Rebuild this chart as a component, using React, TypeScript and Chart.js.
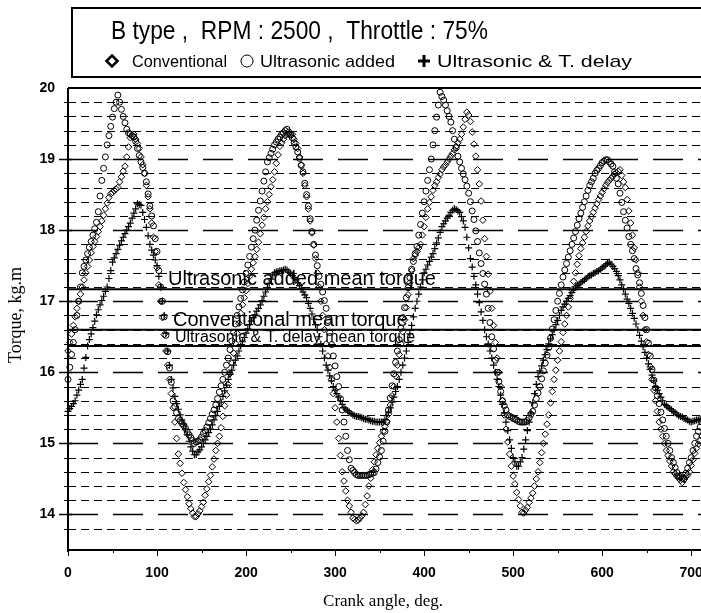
import React, { useEffect, useRef } from 'react';
import { Chart, registerables } from 'chart.js';

Chart.register(...registerables);

// ---------------- data ----------------
const chartTitle = 'B type ,  RPM : 2500 ,  Throttle : 75%';
const seriesNames = ['Conventional', 'Ultrasonic added', 'Ultrasonic & T. delay'];
const xAxisTitle = 'Crank angle, deg.';
const yAxisTitle = 'Torque, kg.m';
const xMin = 0;
const xMax = 720;
const xStep = 100;
const xLastLabel = 700;
const yMin = 13.5;
const yMax = 20;
const yStep = 0.2;

const meanLabels = ['Ultrasonic added mean torque', 'Conventional mean torque', 'Ultrasonic & T. delay mean torque'];
const meanTorques = [17.17, 16.6, 16.37];

// crank angle, deg.
const angles = [
  0, 2, 4, 6, 8, 10, 12, 14, 16, 18,
  20, 22, 24, 26, 28, 30, 32, 34, 36, 38,
  40, 42, 44, 46, 48, 50, 52, 54, 56, 58,
  60, 62, 64, 66, 68, 70, 72, 74, 76, 78,
  80, 82, 84, 86, 88, 90, 92, 94, 96, 98,
  100, 102, 104, 106, 108, 110, 112, 114, 116, 118,
  120, 122, 124, 126, 128, 130, 132, 134, 136, 138,
  140, 142, 144, 146, 148, 150, 152, 154, 156, 158,
  160, 162, 164, 166, 168, 170, 172, 174, 176, 178,
  180, 182, 184, 186, 188, 190, 192, 194, 196, 198,
  200, 202, 204, 206, 208, 210, 212, 214, 216, 218,
  220, 222, 224, 226, 228, 230, 232, 234, 236, 238,
  240, 242, 244, 246, 248, 250, 252, 254, 256, 258,
  260, 262, 264, 266, 268, 270, 272, 274, 276, 278,
  280, 282, 284, 286, 288, 290, 292, 294, 296, 298,
  300, 302, 304, 306, 308, 310, 312, 314, 316, 318,
  320, 322, 324, 326, 328, 330, 332, 334, 336, 338,
  340, 342, 344, 346, 348, 350, 352, 354, 356, 358,
  360, 362, 364, 366, 368, 370, 372, 374, 376, 378,
  380, 382, 384, 386, 388, 390, 392, 394, 396, 398,
  400, 402, 404, 406, 408, 410, 412, 414, 416, 418,
  420, 422, 424, 426, 428, 430, 432, 434, 436, 438,
  440, 442, 444, 446, 448, 450, 452, 454, 456, 458,
  460, 462, 464, 466, 468, 470, 472, 474, 476, 478,
  480, 482, 484, 486, 488, 490, 492, 494, 496, 498,
  500, 502, 504, 506, 508, 510, 512, 514, 516, 518,
  520, 522, 524, 526, 528, 530, 532, 534, 536, 538,
  540, 542, 544, 546, 548, 550, 552, 554, 556, 558,
  560, 562, 564, 566, 568, 570, 572, 574, 576, 578,
  580, 582, 584, 586, 588, 590, 592, 594, 596, 598,
  600, 602, 604, 606, 608, 610, 612, 614, 616, 618,
  620, 622, 624, 626, 628, 630, 632, 634, 636, 638,
  640, 642, 644, 646, 648, 650, 652, 654, 656, 658,
  660, 662, 664, 666, 668, 670, 672, 674, 676, 678,
  680, 682, 684, 686, 688, 690, 692, 694, 696, 698,
  700, 702, 704, 706, 708, 710, 712,
];

// Conventional (diamonds)
const conventional = [
  16.30, 16.42, 16.54, 16.66, 16.78, 16.90, 17.00, 17.10, 17.20, 17.30,
  17.40, 17.49, 17.58, 17.68, 17.77, 17.84, 17.91, 17.98, 18.05, 18.13,
  18.21, 18.30, 18.38, 18.46, 18.51, 18.53, 18.56, 18.58, 18.60, 18.68,
  18.75, 18.83, 18.90, 19.03, 19.17, 19.30, 19.33, 19.35, 19.28, 19.22,
  19.15, 19.03, 18.92, 18.80, 18.63, 18.47, 18.30, 18.10, 17.90, 17.70,
  17.47, 17.23, 17.00, 16.77, 16.53, 16.30, 16.10, 15.90, 15.70, 15.50,
  15.30, 15.07, 14.85, 14.72, 14.58, 14.45, 14.35, 14.25, 14.15, 14.08,
  14.02, 13.97, 13.97, 14.01, 14.05, 14.11, 14.17, 14.27, 14.36, 14.46,
  14.55, 14.67, 14.78, 14.90, 15.00, 15.10, 15.22, 15.38, 15.53, 15.68,
  15.83, 15.98, 16.13, 16.27, 16.41, 16.55, 16.69, 16.83, 16.95, 17.05,
  17.15, 17.25, 17.35, 17.45, 17.54, 17.63, 17.73, 17.83, 17.95, 18.07,
  18.18, 18.30, 18.40, 18.50, 18.61, 18.71, 18.82, 18.94, 19.06, 19.18,
  19.23, 19.28, 19.33, 19.35, 19.35, 19.35, 19.35, 19.28, 19.22, 19.15,
  19.03, 18.92, 18.80, 18.63, 18.47, 18.30, 18.13, 17.96, 17.79, 17.60,
  17.40, 17.20, 17.00, 16.80, 16.60, 16.40, 16.23, 16.07, 15.90, 15.70,
  15.50, 15.30, 15.07, 14.83, 14.60, 14.47, 14.33, 14.20, 14.12, 14.03,
  13.95, 13.93, 13.91, 13.92, 13.95, 13.98, 14.03, 14.14, 14.26, 14.40,
  14.51, 14.63, 14.74, 14.84, 14.93, 15.01, 15.10, 15.17, 15.24, 15.31,
  15.41, 15.54, 15.67, 15.80, 15.95, 16.10, 16.25, 16.40, 16.57, 16.74,
  16.91, 17.09, 17.26, 17.43, 17.60, 17.65, 17.70, 17.75, 17.80, 17.93,
  18.05, 18.18, 18.30, 18.39, 18.47, 18.56, 18.63, 18.68, 18.74, 18.79,
  18.85, 18.89, 18.92, 18.96, 19.00, 19.04, 19.08, 19.13, 19.18, 19.23,
  19.28, 19.35, 19.45, 19.56, 19.66, 19.62, 19.53, 19.38, 19.21, 19.04,
  18.85, 18.65, 18.41, 18.14, 17.88, 17.63, 17.38, 17.14, 16.90, 16.66,
  16.42, 16.20, 16.00, 15.80, 15.60, 15.40, 15.20, 15.02, 14.85, 14.68,
  14.54, 14.43, 14.31, 14.21, 14.12, 14.03, 14.02, 14.06, 14.10, 14.17,
  14.23, 14.30, 14.40, 14.50, 14.60, 14.73, 14.87, 15.00, 15.13, 15.27,
  15.40, 15.57, 15.73, 15.90, 16.03, 16.17, 16.30, 16.43, 16.56, 16.68,
  16.80, 16.92, 17.04, 17.16, 17.28, 17.40, 17.52, 17.64, 17.74, 17.82,
  17.90, 17.98, 18.06, 18.13, 18.19, 18.25, 18.31, 18.37, 18.43, 18.48,
  18.53, 18.58, 18.63, 18.67, 18.70, 18.73, 18.76, 18.79, 18.81, 18.83,
  18.85, 18.77, 18.68, 18.60, 18.43, 18.27, 18.10, 17.93, 17.75, 17.58,
  17.40, 17.20, 17.00, 16.80, 16.60, 16.43, 16.25, 16.08, 15.90, 15.75,
  15.60, 15.45, 15.30, 15.20, 15.10, 15.00, 14.90, 14.83, 14.75, 14.68,
  14.60, 14.57, 14.54, 14.51, 14.48, 14.45, 14.49, 14.53, 14.56, 14.60,
  14.69, 14.77, 14.86, 14.93, 14.99, 15.04, 15.10,
];

// Ultrasonic added (circles)
const ultrasonicAdded = [
  15.90, 16.07, 16.25, 16.42, 16.60, 16.80, 17.00, 17.20, 17.40, 17.49,
  17.58, 17.67, 17.76, 17.84, 17.93, 18.02, 18.11, 18.26, 18.48, 18.70,
  18.87, 19.03, 19.20, 19.33, 19.46, 19.59, 19.71, 19.80, 19.90, 19.80,
  19.70, 19.60, 19.51, 19.42, 19.37, 19.35, 19.33, 19.31, 19.25, 19.15,
  19.05, 18.96, 18.88, 18.80, 18.68, 18.51, 18.34, 18.20, 18.06, 17.88,
  17.70, 17.43, 17.20, 17.00, 16.78, 16.52, 16.29, 16.06, 15.86, 15.60,
  15.52, 15.43, 15.35, 15.32, 15.28, 15.25, 15.21, 15.16, 15.12, 15.08,
  15.04, 15.00, 15.02, 15.03, 15.05, 15.09, 15.14, 15.18, 15.23, 15.29,
  15.35, 15.41, 15.47, 15.54, 15.63, 15.72, 15.81, 15.90, 16.00, 16.10,
  16.20, 16.32, 16.44, 16.56, 16.68, 16.80, 16.92, 17.04, 17.16, 17.27,
  17.39, 17.51, 17.63, 17.76, 17.88, 18.00, 18.14, 18.28, 18.41, 18.55,
  18.69, 18.82, 18.96, 19.02, 19.08, 19.14, 19.20, 19.24, 19.28, 19.31,
  19.35, 19.37, 19.40, 19.42, 19.38, 19.34, 19.30, 19.23, 19.17, 19.10,
  19.01, 18.91, 18.82, 18.66, 18.50, 18.34, 18.16, 17.98, 17.80, 17.65,
  17.50, 17.35, 17.24, 17.13, 17.01, 16.90, 16.73, 16.56, 16.39, 16.23,
  16.09, 15.94, 15.80, 15.63, 15.47, 15.30, 15.10, 14.90, 14.77, 14.65,
  14.62, 14.59, 14.56, 14.55, 14.55, 14.55, 14.55, 14.55, 14.55, 14.56,
  14.57, 14.58, 14.59, 14.64, 14.73, 14.81, 14.90, 15.03, 15.17, 15.30,
  15.47, 15.64, 15.81, 15.98, 16.14, 16.30, 16.46, 16.62, 16.77, 16.91,
  17.05, 17.19, 17.33, 17.45, 17.56, 17.67, 17.77, 17.93, 18.08, 18.24,
  18.40, 18.55, 18.70, 18.85, 19.00, 19.20, 19.40, 19.59, 19.76, 19.94,
  19.88, 19.83, 19.76, 19.68, 19.60, 19.52, 19.40, 19.28, 19.16, 19.04,
  18.96, 18.87, 18.79, 18.71, 18.62, 18.52, 18.40, 18.27, 18.15, 17.99,
  17.84, 17.68, 17.53, 17.39, 17.24, 17.10, 16.90, 16.70, 16.50, 16.33,
  16.17, 16.00, 15.87, 15.73, 15.60, 15.53, 15.47, 15.40, 15.38, 15.37,
  15.35, 15.34, 15.33, 15.31, 15.30, 15.30, 15.30, 15.30, 15.32, 15.36,
  15.41, 15.45, 15.54, 15.63, 15.71, 15.80, 15.91, 16.02, 16.13, 16.24,
  16.35, 16.48, 16.61, 16.74, 16.87, 17.00, 17.11, 17.23, 17.34, 17.44,
  17.53, 17.62, 17.71, 17.80, 17.89, 17.98, 18.07, 18.16, 18.24, 18.32,
  18.40, 18.48, 18.56, 18.63, 18.68, 18.73, 18.80, 18.84, 18.87, 18.91,
  18.95, 18.97, 18.99, 18.99, 18.96, 18.93, 18.90, 18.82, 18.73, 18.65,
  18.52, 18.39, 18.26, 18.14, 18.03, 17.91, 17.80, 17.71, 17.60, 17.46,
  17.37, 17.26, 17.11, 16.94, 16.77, 16.60, 16.41, 16.23, 16.04, 15.89,
  15.78, 15.67, 15.56, 15.44, 15.33, 15.21, 15.10, 15.00, 14.90, 14.80,
  14.73, 14.66, 14.59, 14.54, 14.53, 14.51, 14.50, 14.58, 14.65, 14.73,
  14.80, 14.90, 15.00, 15.10, 15.17, 15.23, 15.30,
];

// Ultrasonic & T. delay (plus)
const ultrasonicDelay = [
  15.45, 15.49, 15.52, 15.56, 15.60, 15.68, 15.75, 15.83, 15.90, 16.06,
  16.21, 16.37, 16.46, 16.54, 16.63, 16.72, 16.81, 16.88, 16.95, 17.01,
  17.07, 17.14, 17.20, 17.32, 17.43, 17.55, 17.61, 17.67, 17.73, 17.79,
  17.85, 17.90, 17.95, 18.00, 18.05, 18.10, 18.17, 18.24, 18.30, 18.37,
  18.36, 18.35, 18.25, 18.15, 18.04, 17.92, 17.80, 17.72, 17.65, 17.58,
  17.50, 17.35, 17.20, 17.00, 16.80, 16.55, 16.30, 16.10, 15.90, 15.78,
  15.66, 15.56, 15.48, 15.40, 15.33, 15.27, 15.20, 15.12, 15.03, 14.95,
  14.89, 14.84, 14.84, 14.88, 14.91, 14.95, 15.00, 15.05, 15.10, 15.15,
  15.20, 15.26, 15.33, 15.39, 15.45, 15.52, 15.58, 15.66, 15.74, 15.82,
  15.90, 15.97, 16.03, 16.10, 16.17, 16.23, 16.30, 16.37, 16.43, 16.49,
  16.55, 16.61, 16.67, 16.72, 16.77, 16.81, 16.86, 16.90, 16.95, 17.01,
  17.07, 17.13, 17.19, 17.25, 17.31, 17.37, 17.40, 17.41, 17.42, 17.43,
  17.43, 17.44, 17.45, 17.44, 17.41, 17.39, 17.36, 17.33, 17.30, 17.26,
  17.22, 17.17, 17.13, 17.09, 17.05, 16.97, 16.90, 16.82, 16.75, 16.67,
  16.60, 16.50, 16.40, 16.30, 16.20, 16.10, 16.03, 15.95, 15.88, 15.80,
  15.75, 15.70, 15.65, 15.60, 15.55, 15.50, 15.48, 15.46, 15.44, 15.42,
  15.40, 15.39, 15.38, 15.38, 15.37, 15.36, 15.35, 15.34, 15.34, 15.33,
  15.32, 15.31, 15.31, 15.30, 15.30, 15.30, 15.30, 15.30, 15.33, 15.39,
  15.44, 15.50, 15.58, 15.65, 15.73, 15.80, 15.90, 16.00, 16.10, 16.20,
  16.30, 16.42, 16.54, 16.66, 16.78, 16.90, 17.00, 17.10, 17.20, 17.30,
  17.40, 17.45, 17.51, 17.56, 17.62, 17.67, 17.74, 17.82, 17.89, 17.97,
  18.05, 18.09, 18.13, 18.17, 18.21, 18.25, 18.28, 18.30, 18.29, 18.27,
  18.25, 18.19, 18.13, 18.04, 17.90, 17.75, 17.60, 17.48, 17.35, 17.23,
  17.10, 16.98, 16.85, 16.73, 16.60, 16.50, 16.40, 16.30, 16.20, 16.10,
  16.00, 15.90, 15.80, 15.68, 15.55, 15.43, 15.30, 15.18, 15.05, 14.93,
  14.80, 14.74, 14.68, 14.68, 14.74, 14.80, 14.92, 15.05, 15.18, 15.30,
  15.43, 15.57, 15.70, 15.83, 15.94, 16.02, 16.09, 16.17, 16.25, 16.32,
  16.40, 16.47, 16.53, 16.60, 16.67, 16.73, 16.80, 16.87, 16.92, 16.96,
  17.00, 17.04, 17.08, 17.12, 17.16, 17.20, 17.22, 17.24, 17.26, 17.28,
  17.30, 17.32, 17.34, 17.36, 17.37, 17.39, 17.40, 17.42, 17.43, 17.45,
  17.47, 17.49, 17.51, 17.53, 17.55, 17.52, 17.49, 17.46, 17.42, 17.36,
  17.30, 17.23, 17.17, 17.10, 17.03, 16.97, 16.90, 16.83, 16.76, 16.68,
  16.60, 16.52, 16.44, 16.36, 16.28, 16.20, 16.12, 16.04, 15.96, 15.88,
  15.80, 15.75, 15.70, 15.65, 15.60, 15.55, 15.53, 15.51, 15.49, 15.47,
  15.45, 15.43, 15.41, 15.39, 15.38, 15.37, 15.35, 15.34, 15.33, 15.31,
  15.30, 15.31, 15.32, 15.33, 15.33, 15.34, 15.35,
];

// ---------------- drawing ----------------
const SANS = "'Liberation Sans', Arial, Helvetica, sans-serif";
const SERIF = "'Liberation Serif', 'Times New Roman', serif";

function drawText(ctx: CanvasRenderingContext2D, text: string, x: number, y: number, font: string, width?: number) {
  ctx.font = font;
  ctx.textAlign = 'left';
  ctx.textBaseline = 'alphabetic';
  if (width) {
    const m = ctx.measureText(text).width;
    ctx.save();
    ctx.translate(x, y);
    ctx.scale(width / m, 1);
    ctx.fillText(text, 0, 0);
    ctx.restore();
  } else {
    ctx.fillText(text, x, y);
  }
}

const isInt = (v: number) => Math.abs(v - Math.round(v)) < 1e-6;

const decorPlugin = {
  id: 'decor',
  beforeDatasetsDraw(chart: any) {
    const { ctx, chartArea: a } = chart;
    const ys = chart.scales.y;
    ctx.save();
    ctx.strokeStyle = '#000';
    ys.ticks.forEach((t: any) => {
      const v = t.value;
      if (v <= yMin + 1e-6 || v >= yMax - 1e-6) return;
      const py = Math.round(ys.getPixelForValue(v)) + 0.5;
      const major = isInt(v);
      ctx.lineWidth = major ? 1.5 : 1;
      ctx.setLineDash(major ? [30, 15] : [8, 5]);
      ctx.beginPath();
      ctx.moveTo(a.left, py);
      ctx.lineTo(a.right, py);
      ctx.stroke();
      ctx.setLineDash([]);
      ctx.beginPath();
      ctx.moveTo(a.left - (major ? 9 : 4), py);
      ctx.lineTo(a.left + 4, py);
      ctx.stroke();
    });
    ctx.restore();
  },
  afterDatasetsDraw(chart: any) {
    const { ctx, chartArea: a } = chart;
    const xs = chart.scales.x;
    const ys = chart.scales.y;
    ctx.save();
    ctx.strokeStyle = '#000';
    ctx.fillStyle = '#000';

    // mean torque lines and labels
    const labelPos = [
      { x: 168, size: 20 },
      { x: 173, size: 20 },
      { x: 175, size: 16 },
    ];
    meanTorques.forEach((m, i) => {
      const py = ys.getPixelForValue(m);
      ctx.lineWidth = 2;
      ctx.beginPath();
      ctx.moveTo(a.left, py);
      ctx.lineTo(a.right, py);
      ctx.stroke();
      drawText(ctx, meanLabels[i], labelPos[i].x, py - 4, `${labelPos[i].size}px ${SANS}`);
    });

    // frame
    ctx.lineWidth = 2;
    ctx.beginPath();
    ctx.moveTo(a.left, a.top);
    ctx.lineTo(a.right + 30, a.top);
    ctx.moveTo(a.left, a.top);
    ctx.lineTo(a.left, a.bottom + 2);
    ctx.moveTo(a.left, a.bottom);
    ctx.lineTo(a.right + 30, a.bottom);
    ctx.stroke();

    // x tick marks
    ctx.lineWidth = 1;
    xs.ticks.forEach((t: any) => {
      if (t.value > xLastLabel) return;
      const px = Math.round(xs.getPixelForValue(t.value)) + 0.5;
      ctx.beginPath();
      ctx.moveTo(px, a.bottom);
      ctx.lineTo(px, a.bottom + 6);
      ctx.stroke();
      const pm = Math.round(xs.getPixelForValue(t.value + xStep / 2)) + 0.5;
      ctx.beginPath();
      ctx.moveTo(pm, a.bottom);
      ctx.lineTo(pm, a.bottom + 3);
      ctx.stroke();
    });

    // title box
    ctx.lineWidth = 2;
    ctx.strokeRect(72, 8, 720, 69);
    drawText(ctx, chartTitle, 111, 39, `26px ${SANS}`, 377);

    // legend
    const ly = 61;
    // diamond
    ctx.lineWidth = 2.6;
    ctx.beginPath();
    ctx.moveTo(112, ly - 5.5);
    ctx.lineTo(117.5, ly);
    ctx.lineTo(112, ly + 5.5);
    ctx.lineTo(106.5, ly);
    ctx.closePath();
    ctx.stroke();
    drawText(ctx, seriesNames[0], 132, 67, `17px ${SANS}`, 95);
    // circle
    ctx.lineWidth = 1;
    ctx.beginPath();
    ctx.arc(247, ly, 6, 0, Math.PI * 2);
    ctx.stroke();
    drawText(ctx, seriesNames[1], 260, 67, `17px ${SANS}`, 135);
    // plus
    ctx.lineWidth = 3;
    ctx.beginPath();
    ctx.moveTo(418, ly);
    ctx.lineTo(430, ly);
    ctx.moveTo(424, ly - 6);
    ctx.lineTo(424, ly + 6);
    ctx.stroke();
    drawText(ctx, seriesNames[2], 437, 67, `17px ${SANS}`, 195);

    // axis titles
    ctx.font = `17px ${SERIF}`;
    ctx.textAlign = 'center';
    ctx.textBaseline = 'alphabetic';
    ctx.fillText(xAxisTitle, 383, 606);
    ctx.save();
    ctx.translate(16, 315);
    ctx.rotate(-Math.PI / 2);
    ctx.font = `18px ${SERIF}`;
    ctx.textBaseline = 'middle';
    ctx.fillText(yAxisTitle, 0, 0);
    ctx.restore();

    ctx.restore();
  },
};

export default function App() {
  const canvasRef = useRef<HTMLCanvasElement | null>(null);

  useEffect(() => {
    if (!canvasRef.current) return;
    const toPoints = (vals: number[]) => angles.map((a, i) => ({ x: a, y: vals[i] }));
    const common = {
      showLine: false,
      borderColor: '#000',
      backgroundColor: 'rgba(0,0,0,0)',
      clip: false as any,
    };
    const chart = new Chart(canvasRef.current, {
      type: 'scatter',
      data: {
        datasets: [
          { ...common, label: seriesNames[0], data: toPoints(conventional), pointStyle: 'rectRot', pointRadius: 3.3, borderWidth: 1 },
          { ...common, label: seriesNames[1], data: toPoints(ultrasonicAdded), pointStyle: 'circle', pointRadius: 3, borderWidth: 1 },
          { ...common, label: seriesNames[2], data: toPoints(ultrasonicDelay), pointStyle: 'cross', pointRadius: 3.5, borderWidth: 1.2 },
        ],
      },
      options: {
        responsive: false,
        animation: false,
        devicePixelRatio: 1,
        events: [],
        layout: { padding: { top: 88, right: 21, bottom: 0, left: 0 } },
        plugins: {
          legend: { display: false },
          title: { display: false },
          tooltip: { enabled: false },
        },
        scales: {
          x: {
            type: 'linear',
            min: xMin,
            max: xMax,
            grid: { display: false, drawTicks: false },
            border: { display: false },
            ticks: {
              stepSize: xStep,
              includeBounds: false,
              autoSkip: false,
              maxRotation: 0,
              padding: 15,
              color: '#000',
              font: { family: SANS, size: 14, weight: 'bold' },
              callback: (v: any) => (Number(v) % xStep === 0 && Number(v) <= xLastLabel ? String(v) : ''),
            },
            afterFit: (s: any) => {
              s.height = 63;
            },
          },
          y: {
            type: 'linear',
            min: yMin,
            max: yMax,
            grid: { display: false, drawTicks: false },
            border: { display: false },
            ticks: {
              stepSize: yStep,
              autoSkip: false,
              padding: 13,
              color: '#000',
              font: { family: SANS, size: 14, weight: 'bold' },
              callback: (v: any) => (isInt(Number(v)) ? String(Math.round(Number(v))) : ''),
            },
            afterFit: (s: any) => {
              s.width = 68;
            },
          },
        },
      } as any,
      plugins: [decorPlugin],
    });
    return () => chart.destroy();
  }, []);

  return (
    <div
      style={{
        position: 'fixed',
        left: 0,
        top: 0,
        width: 701,
        height: 613,
        overflow: 'hidden',
        background: '#fff',
      }}
    >
      <canvas ref={canvasRef} width={730} height={613} style={{ display: 'block' }} />
    </div>
  );
}
